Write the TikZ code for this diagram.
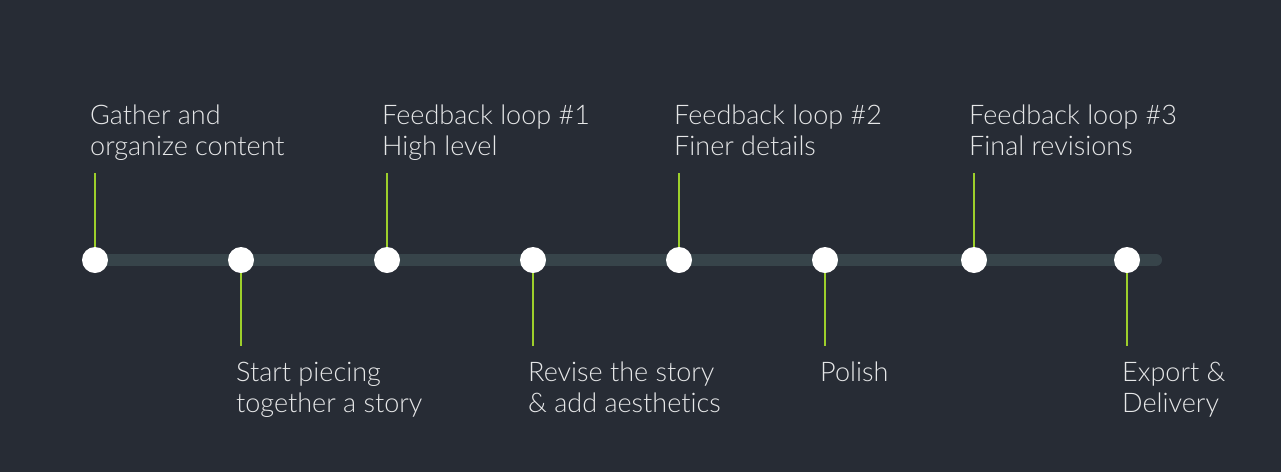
\documentclass[tikz,border=0pt]{standalone}
\usepackage{fontspec}
\setmainfont[Ligatures=NoCommon]{Lato Light}
\usetikzlibrary{positioning}
\definecolor{bgdark}{HTML}{272C35}
\definecolor{trackgrey}{HTML}{37444A}
\definecolor{stemgreen}{HTML}{9DCF2B}
\definecolor{textgrey}{HTML}{E6E7E8}
\tikzset{
	dot/.style = {
		circle,
		fill=white,
		minimum size=26pt,
		inner sep=0pt
	},
	stemline/.style = {draw=stemgreen, line width=2.8pt},
	trackline/.style = {draw=trackgrey, line width=12pt, line cap=round},
	steptext/.style = {
		anchor=base west,
		align=left,
		inner sep=0pt,
		text=textgrey,
		font=\fontsize{27}{31}\selectfont
	}
}

\begin{document}
\begin{tikzpicture}[x=1pt, y=-1pt]
	\fill[bgdark] (0,0) rectangle (1281,472);
	\useasboundingbox (0,0) rectangle (1281,472);
	% the track
	\coordinate (trackstart) at (95,260);
	\coordinate (trackend) at (1156,260);
	\draw[trackline] (trackstart) -- (trackend);
	% dots, stems and texts (base is the last line)
	\foreach \i/\x/\y/\ty/\txt in {
		1/95/173/155/{Gather and\\organize content},
		2/241/346/412/{Start piecing\\together a story},
		3/387/173/155/{Feedback loop \#1\\High level},
		4/533/346/412/{Revise the story\\\& add aesthetics},
		5/679/173/155/{Feedback loop \#2\\Finer details},
		6/825/346/381/{Polish},
		7/974/173/155/{Feedback loop \#3\\Final revisions},
		8/1127/346/412/{Export \&\\Delivery}} {
		\node[dot] (dot\i) at (\x,260) {};
		\coordinate (tip\i) at (\x,\y);
		\draw[stemline] (dot\i) -- (tip\i);
		\node[steptext] (txt\i) at (\x-5,\ty) {\txt};
	}
\end{tikzpicture}
\end{document}
